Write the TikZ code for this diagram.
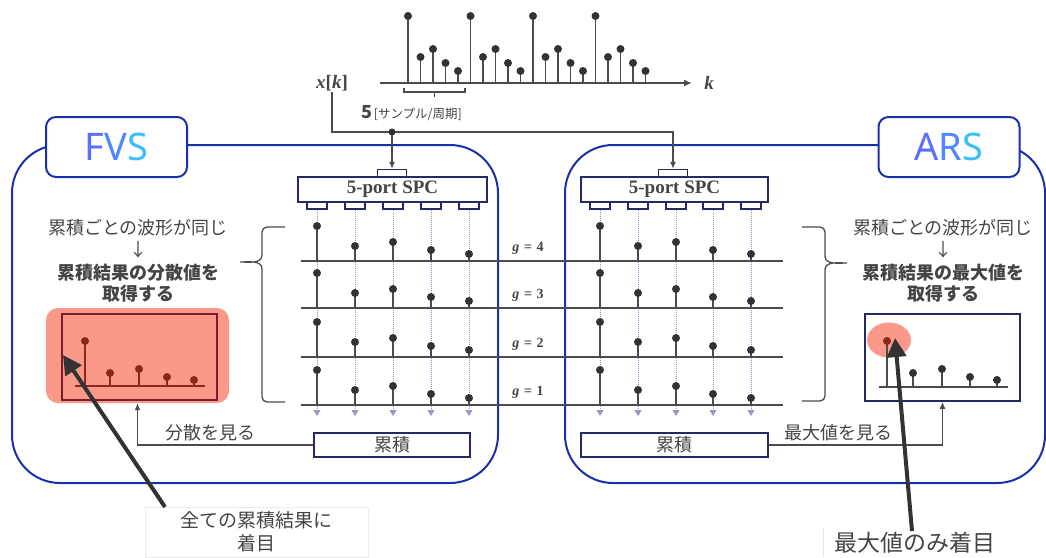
\documentclass[tikz,border=0pt]{standalone}
\usepackage{fontspec}
\setmainfont{Liberation Serif}
\newfontfamily\jp{Noto Sans CJK JP}
\newfontfamily\lat{Noto Sans}
\usetikzlibrary{arrows.meta,calc}
\definecolor{cblue}{RGB}{26,48,170}
\definecolor{navy}{RGB}{38,42,100}
\definecolor{lgray}{RGB}{75,75,75}
\definecolor{dotc}{RGB}{150,150,200}
\definecolor{salmon}{RGB}{250,152,138}
\definecolor{dred}{RGB}{140,40,25}
\definecolor{dframe}{RGB}{120,30,45}
\definecolor{txt}{RGB}{68,68,68}
\definecolor{ga}{RGB}{92,110,255}
\definecolor{gb}{RGB}{78,135,255}
\definecolor{gc}{RGB}{58,190,255}
\begin{document}
\begin{tikzpicture}[x=1pt,y=-1pt,
  container/.style={draw=cblue,line width=2pt,rounded corners=48pt},
  titlebox/.style={draw=cblue,line width=2pt,rounded corners=10pt,fill=white,minimum width=141pt,minimum height=60pt,inner sep=0pt,font=\lat\fontsize{38}{38}\selectfont},
  spcbox/.style={draw=navy,line width=1.3pt,fill=white,minimum height=25pt,inner sep=0pt,font=\fontsize{19}{19}\selectfont\bfseries,text=txt},
  portbox/.style={draw=navy,line width=1.3pt,fill=white,minimum width=20pt,minimum height=7pt,inner sep=0pt},
  wire/.style={draw=lgray,line width=1.3pt},
  sepline/.style={draw=lgray,line width=1.5pt},
  stemline/.style={draw=lgray,line width=1.6pt},
  dotline/.style={draw=dotc,line width=1pt,densely dotted,-{Triangle[width=7pt,length=6pt]}},
  jtext/.style={font=\jp\fontsize{18}{22}\selectfont,text=txt,inner sep=0pt},
  jbold/.style={font=\jp\bfseries\fontsize{18}{22}\selectfont,text=txt,inner sep=0pt},
  accbox/.style={draw=navy,line width=1.3pt,fill=white,minimum height=24pt,inner sep=0pt,font=\jp\fontsize{18}{18}\selectfont,text=txt},
  bigarrow/.style={draw=black!80,line width=4pt,-{Triangle[length=19pt,width=19pt]}},
  glabel/.style={font=\fontsize{14}{14}\selectfont\bfseries,text=txt,inner sep=0pt},
  tipa/.style={-{Latex[length=7pt,width=6pt]}},
  mathlbl/.style={font=\fontsize{19}{19}\selectfont\bfseries,text=txt,inner sep=1pt}
]
\useasboundingbox (0,0) rectangle (1046,557);

% ---------- containers ----------
\draw[container] (12,145) rectangle (498,483);
\draw[container] (565,145) rectangle (1045,483);
\node[titlebox] (fvs) at (116.5,147) {\color{ga}F\color{gb}V\color{gc}S};
\node[titlebox] (ars) at (949,147) {\color{ga}A\color{gb}R\color{gc}S};

% ---------- top signal ----------
\draw[wire,line width=1.5pt,-{Latex[length=8pt,width=7pt]}] (380,83) -- (692,83);
\foreach \ii/\hh in {0/67,1/26,2/34,3/20,4/12,5/67,6/26,7/34,8/20,9/12,10/67,11/26,12/34,13/20,14/12,15/67,16/26,17/34,18/20,19/12}{
  \draw[stemline] (408+12.5*\ii,83) -- (408+12.5*\ii,83-\hh);
  \fill[black!80] (408+12.5*\ii,83-\hh) circle (4pt);
}
\node[mathlbl] (kk) at (709,83) {\textit{k}};
\node[mathlbl] (xk) at (332,83) {\textit{x}[\textit{k}]};
\draw[lgray,line width=1.2pt] (404,88) -- (404,92) -- (465,92) -- (465,88);
\draw[lgray,line width=1.2pt] (434.5,92) -- (434.5,97);
\node[anchor=west,inner sep=0pt,text=txt] (per) at (361,113) {{\jp\bfseries\fontsize{18}{18}\selectfont 5}\,{\jp\fontsize{12.5}{12.5}\selectfont [サンプル/周期]}};

% ---------- SPC ----------
\node[spcbox,minimum width=189pt] (lspc) at (392.5,189.5) {5-port SPC};
\node[spcbox,minimum width=187pt] (rspc) at (674.5,189.5) {5-port SPC};
\node[portbox,minimum width=29pt] (ltop) at (392,173) {};
\node[portbox,minimum width=29pt] (rtop) at (673,173) {};
\coordinate (j) at (392,132);
\draw[wire,tipa] (xk.south) |- (rtop.north |- j) -- (rtop.north);
\draw[wire,tipa] (j) -- (ltop.north);
\fill[black!80] (j) circle (3.5pt);

\foreach \xp/\cc in {317/0,355/1,393/2,431/3,469/4}{
  \node[portbox] (lp\cc) at (\xp,205.5) {};
  \draw[dotline] (lp\cc.south) -- (\xp,416);
}
\foreach \xp/\cc in {600/0,638/1,676/2,713/3,751/4}{
  \node[portbox] (rp\cc) at (\xp,205.5) {};
  \draw[dotline] (rp\cc.south) -- (\xp,416);
}

% ---------- bands ----------
\foreach \yb/\gg in {261/4,308/3,357/2,405/1}{
  \draw[sepline] (301,\yb) -- (783,\yb);
  \node[glabel] at (528,\yb-13) {\textit{g}\,\,=\,\,\gg};
  \foreach \xp/\hh in {317/35,355/15,393/19,431/11,469/7,600/35,638/15,676/19,713/11,751/7}{
    \draw[stemline] (\xp,\yb) -- (\xp,\yb-\hh);
    \fill[black!80] (\xp,\yb-\hh) circle (4pt);
  }
}

% ---------- braces ----------
\draw[lgray,line width=1.3pt] (285,227) -- (267,227) to[out=180,in=90] (262,232) -- (262,255)
  to[out=-90,in=0] (240,262) to[out=0,in=90] (262,269) -- (262,397) to[out=-90,in=180] (267,402) -- (285,402);
\draw[lgray,line width=1.3pt] (802,227) -- (820,227) to[out=0,in=90] (825,232) -- (825,256)
  to[out=-90,in=180] (847,263) to[out=180,in=90] (825,270) -- (825,396) to[out=-90,in=0] (820,401) -- (802,401);

% ---------- left text ----------
\node[jtext] (lt1) at (138,228) {累積ごとの波形が同じ};
\node[jtext] (lt2) at (138,250) {↓};
\node[jbold] (lt3) at (138,273) {累積結果の分散値を};
\node[jbold] (lt4) at (138,294) {取得する};
% ---------- right text ----------
\node[jtext] (rt1) at (943,228) {累積ごとの波形が同じ};
\node[jtext] (rt2) at (943,250) {↓};
\node[jbold] (rt3) at (943,273) {累積結果の最大値を};
\node[jbold] (rt4) at (943,294) {取得する};

% ---------- left plot ----------
\node[fill=salmon,rounded corners=12pt,minimum width=183pt,minimum height=95pt,inner sep=0pt] (lpink) at (137.5,355.5) {};
\node[draw=dframe,line width=1.3pt,minimum width=155pt,minimum height=86pt,inner sep=0pt] (lplot) at (139.5,357) {};
\draw[dred,line width=1.3pt] (75,386) -- (205,386);
\foreach \xp/\yp in {85/341,110/373,139/369,167/377,194/380}{
  \draw[dred,line width=1.3pt] (\xp,386) -- (\xp,\yp);
  \fill[dred] (\xp,\yp) circle (4pt);
}

% ---------- right plot ----------
\node[draw=navy,line width=1.5pt,fill=white,minimum width=155pt,minimum height=87pt,inner sep=0pt] (rplot) at (942.5,357.5) {};
\fill[salmon] (889,340) ellipse (22pt and 17.5pt);
\draw[lgray,line width=1.3pt] (879,387) -- (1008,387);
\draw[lgray,line width=1.3pt] (887,387) -- (887,341);
\fill[dred] (887,341) circle (4pt);
\foreach \xp/\yp in {913/373,942/369,970/377,997/380}{
  \draw[lgray,line width=1.3pt] (\xp,387) -- (\xp,\yp);
  \fill[black!80] (\xp,\yp) circle (4pt);
}

% ---------- accumulation ----------
\node[accbox,minimum width=156pt] (lacc) at (392,445) {累積};
\node[accbox,minimum width=187pt] (racc) at (674.5,445) {累積};
\draw[wire,tipa] (lacc.west) -| (lpink.south);
\draw[wire,tipa] (racc.east) -| (rplot.south);
\node[jtext] (lsee) at (210,433) {分散を見る};
\node[jtext] (rsee) at (838,433) {最大値を見る};

% ---------- callouts ----------
\node[draw=black!8,fill=white,minimum width=223pt,minimum height=50pt,inner sep=0pt,align=center,
  font=\jp\fontsize{19}{23}\selectfont,text=txt] (lnote) at (256.5,532) {全ての累積結果に\\着目};
\draw[bigarrow] (165,507) -- (63,355);
\draw[black!10,line width=1pt] (823,527) -- (823,557);
\node[font=\jp\fontsize{23}{23}\selectfont,text=txt,inner sep=0pt] (rnote) at (915,543) {最大値のみ着目};
\draw[bigarrow] (912,531) -- (895,338);
\end{tikzpicture}
\end{document}
